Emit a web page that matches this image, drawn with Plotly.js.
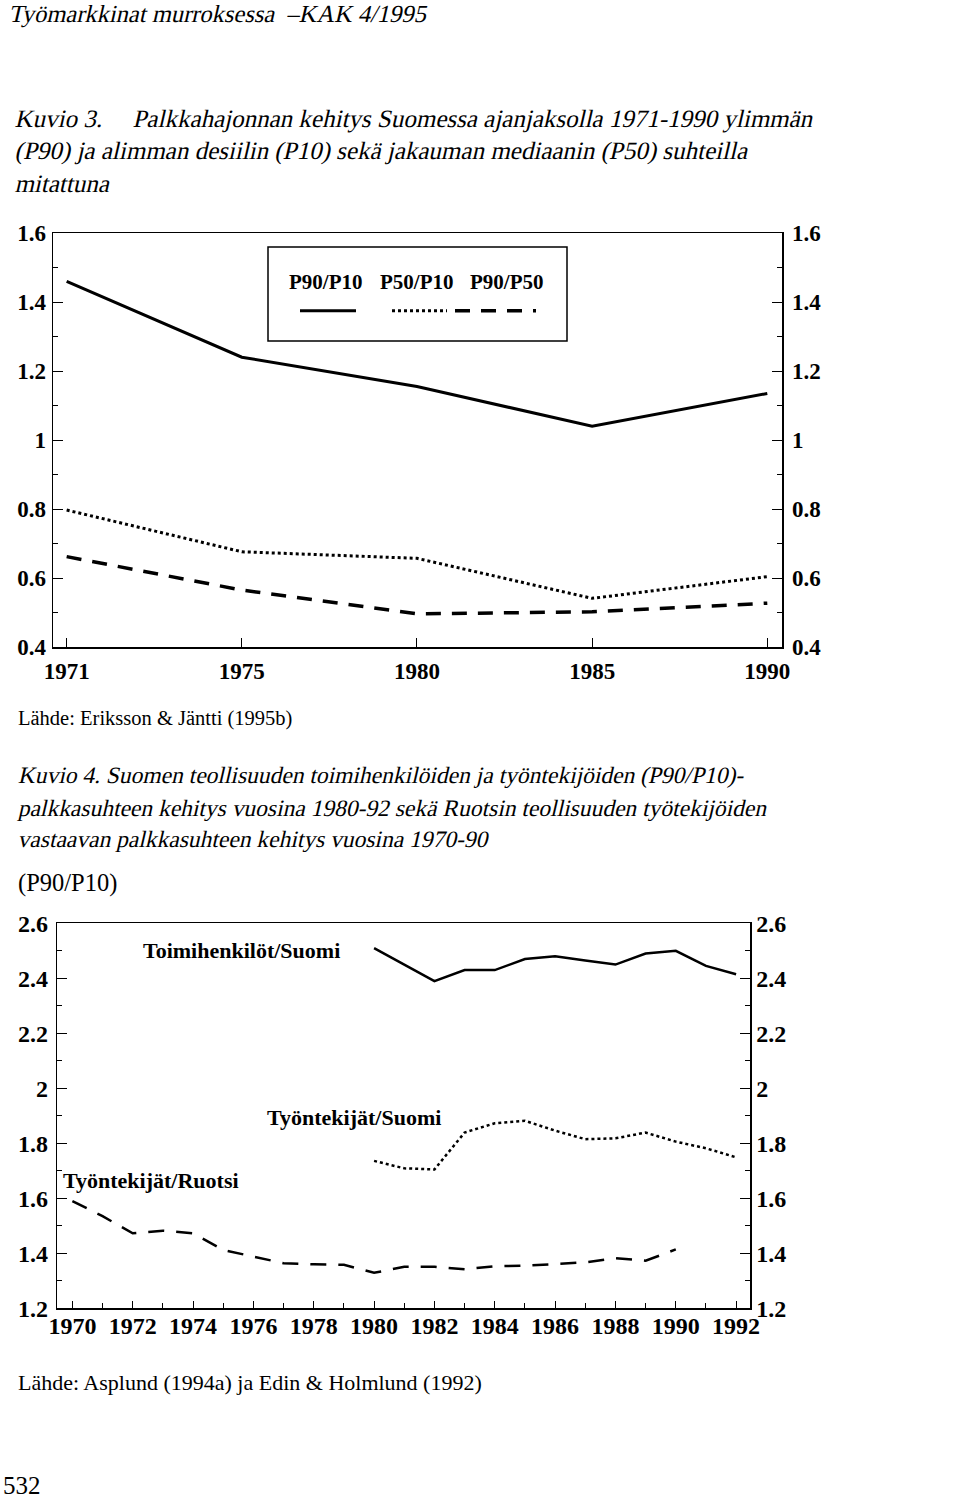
<!DOCTYPE html>
<html>
<head>
<meta charset="utf-8">
<script src="https://cdn.plot.ly/plotly-3.0.1.min.js"></script>
<style>
  html, body { margin: 0; padding: 0; background: #fff; }
  #chart { width: 960px; height: 1499px; }
</style>
</head>
<body>
<div id="chart"></div>
<script>
// ---------- Data: Kuvio 3 ----------
const years1 = ['1971', '1975', '1980', '1985', '1990'];
const p90p10 = [1.46, 1.24, 1.155, 1.04, 1.135];
const p50p10 = [0.797, 0.676, 0.657, 0.541, 0.604];
const p90p50 = [0.662, 0.565, 0.496, 0.502, 0.527];

// ---------- Data: Kuvio 4 ----------
const yearsSuomi = [1980, 1981, 1982, 1983, 1984, 1985, 1986, 1987, 1988, 1989, 1990, 1991, 1992];
const toimihenkilotSuomi = [2.51, 2.45, 2.39, 2.43, 2.43, 2.47, 2.48, 2.465, 2.45, 2.49, 2.50, 2.445, 2.415];
const tyontekijatSuomi = [1.736, 1.709, 1.705, 1.839, 1.873, 1.882, 1.846, 1.815, 1.818, 1.839, 1.806, 1.782, 1.749];
const yearsRuotsi = [1970, 1971, 1972, 1973, 1974, 1975, 1976, 1977, 1978, 1979, 1980,
                     1981, 1982, 1983, 1984, 1985, 1986, 1987, 1988, 1989, 1990];
const tyontekijatRuotsi = [1.59, 1.535, 1.473, 1.482, 1.473, 1.412, 1.388, 1.364, 1.36, 1.358, 1.329,
                           1.351, 1.351, 1.342, 1.353, 1.355, 1.361, 1.367, 1.382, 1.373, 1.414];

// ---------- Layout helpers (page pixels -> paper) ----------
const W = 960, H = 1499;
const px = v => v / W;
const py = v => 1 - v / H;

const SERIF = 'Liberation Serif';
const tick1Font = { family: SERIF, size: 23, color: '#000', weight: 'bold' };
const tick2Font = { family: SERIF, size: 24, color: '#000', weight: 'bold' };

const baseAxis = {
  showgrid: false, zeroline: false, showline: true,
  linecolor: '#000', linewidth: 1.5,
  ticks: 'inside', tickcolor: '#000', tickwidth: 1,
  fixedrange: true
};

const traces = [
  { x: years1, y: p90p10, xaxis: 'x', yaxis: 'y2', mode: 'lines', name: 'P90/P10',
    line: { color: '#000', width: 3 }, hoverinfo: 'skip' },
  { x: years1, y: p50p10, xaxis: 'x', yaxis: 'y', mode: 'lines', name: 'P50/P10',
    line: { color: '#000', width: 3, dash: '3px,3px' }, hoverinfo: 'skip' },
  { x: years1, y: p90p50, xaxis: 'x', yaxis: 'y', mode: 'lines', name: 'P90/P50',
    line: { color: '#000', width: 3.5, dash: '15px,11px' }, hoverinfo: 'skip' },

  { x: yearsSuomi, y: toimihenkilotSuomi, xaxis: 'x3', yaxis: 'y4', mode: 'lines', name: 'Toimihenkilöt/Suomi',
    line: { color: '#000', width: 2.5 }, hoverinfo: 'skip' },
  { x: yearsSuomi, y: tyontekijatSuomi, xaxis: 'x3', yaxis: 'y3', mode: 'lines', name: 'Työntekijät/Suomi',
    line: { color: '#000', width: 2.5, dash: '3px,3px' }, hoverinfo: 'skip' },
  { x: yearsRuotsi, y: tyontekijatRuotsi, xaxis: 'x3', yaxis: 'y3', mode: 'lines', name: 'Työntekijät/Ruotsi',
    line: { color: '#000', width: 2.5, dash: '16px,12px' }, hoverinfo: 'skip' }
];

const annotations = [];
const italicIdx = new Set();
function ann(text, x, y, font, extra, italic) {
  if (italic) italicIdx.add(annotations.length);
  annotations.push(Object.assign({
    text: text, xref: 'paper', yref: 'paper', x: px(x), y: py(y),
    xanchor: 'left', yanchor: 'middle', showarrow: false, font: font
  }, extra || {}));
}
const reg = s => ({ family: SERIF, size: s, color: '#000' });
const bold = s => ({ family: SERIF, size: s, color: '#000', weight: 'bold' });

// captions (serif, slanted after render since no serif italic face is installed)
ann('Työmarkkinat murroksessa\u00a0\u00a0–KAK 4/1995', 7, 14, reg(24.5), null, true);
ann('Kuvio 3.', 13, 119, reg(25), null, true);
ann('Palkkahajonnan kehitys Suomessa ajanjaksolla 1971-1990 ylimmän', 131, 119, reg(25), null, true);
ann('(P90) ja alimman desiilin (P10) sekä jakauman mediaanin (P50) suhteilla', 13, 151, reg(25), null, true);
ann('mitattuna', 13, 183, reg(25), null, true);

ann('P90/P10', 325.5, 282, bold(21), { xanchor: 'center' });
ann('P50/P10', 416.5, 282, bold(21), { xanchor: 'center' });
ann('P90/P50', 506.5, 282, bold(21), { xanchor: 'center' });

ann('Lähde: Eriksson &amp; Jäntti (1995b)', 16, 718, reg(20.5));
ann('Kuvio 4. Suomen teollisuuden toimihenkilöiden ja työntekijöiden (P90/P10)-', 16, 775, reg(23.5), null, true);
ann('palkkasuhteen kehitys vuosina 1980-92 sekä Ruotsin teollisuuden työtekijöiden', 16, 808, reg(23.5), null, true);
ann('vastaavan palkkasuhteen kehitys vuosina 1970-90', 16, 839, reg(23.5), null, true);
ann('(P90/P10)', 16, 883, reg(24.5));

ann('Toimihenkilöt/Suomi', 141, 950, bold(22));
ann('Työntekijät/Suomi', 265, 1117, bold(22));
ann('Työntekijät/Ruotsi', 61, 1180, bold(22));

ann('Lähde: Asplund (1994a) ja Edin &amp; Holmlund (1992)', 16, 1382, reg(22));
ann('532', 1, 1485, reg(25));

const shapes = [
  { type: 'rect', xref: 'paper', yref: 'paper', x0: px(268), x1: px(567), y0: py(247), y1: py(341),
    line: { color: '#000', width: 1.5 } },
  { type: 'line', xref: 'paper', yref: 'paper', x0: px(300), x1: px(356), y0: py(310.7), y1: py(310.7),
    line: { color: '#000', width: 3 } },
  { type: 'line', xref: 'paper', yref: 'paper', x0: px(392), x1: px(447), y0: py(310.7), y1: py(310.7),
    line: { color: '#000', width: 3, dash: '3px,3px' } },
  { type: 'line', xref: 'paper', yref: 'paper', x0: px(455), x1: px(536), y0: py(310.7), y1: py(310.7),
    line: { color: '#000', width: 3.5, dash: '15px,11px' } }
];

const layout = {
  width: W, height: H,
  margin: { l: 0, r: 0, t: 0, b: 0 },
  paper_bgcolor: '#fff', plot_bgcolor: '#fff',
  showlegend: false,
  annotations: annotations,
  shapes: shapes,

  xaxis: Object.assign({}, baseAxis, {
    type: 'category', domain: [px(53), px(782)], anchor: 'y',
    range: [-0.078, 4.084], mirror: true, ticklen: 9,
    tickfont: tick1Font, ticklabelstandoff: 3
  }),
  yaxis: Object.assign({}, baseAxis, {
    domain: [py(647), py(233)], anchor: 'x', range: [0.4, 1.6],
    tick0: 0.4, dtick: 0.2, ticklen: 10, tickfont: tick1Font,
    minor: { dtick: 0.1, ticks: 'inside', ticklen: 5, tickcolor: '#000', showgrid: false },
    ticklabelstandoff: 1
  }),
  yaxis2: Object.assign({}, baseAxis, {
    overlaying: 'y', side: 'right', anchor: 'x', range: [0.4, 1.6],
    tick0: 0.4, dtick: 0.2, ticklen: 10, tickfont: tick1Font,
    minor: { dtick: 0.1, ticks: 'inside', ticklen: 5, tickcolor: '#000', showgrid: false },
    ticklabelstandoff: 4
  }),

  xaxis3: Object.assign({}, baseAxis, {
    domain: [px(57.3), px(750)], anchor: 'y3', range: [1969.5, 1992.46],
    tick0: 1970, dtick: 2, mirror: true, ticklen: 7, tickfont: tick2Font,
    minor: { dtick: 1, ticks: 'inside', ticklen: 5, tickcolor: '#000', showgrid: false },
    ticklabelstandoff: -5
  }),
  yaxis3: Object.assign({}, baseAxis, {
    domain: [py(1308.3), py(923.3)], anchor: 'x3', range: [1.2, 2.6],
    tick0: 1.2, dtick: 0.2, ticklen: 10, tickfont: tick2Font,
    minor: { dtick: 0.1, ticks: 'inside', ticklen: 5, tickcolor: '#000', showgrid: false },
    ticklabelstandoff: 3
  }),
  yaxis4: Object.assign({}, baseAxis, {
    overlaying: 'y3', side: 'right', anchor: 'x3', range: [1.2, 2.6],
    tick0: 1.2, dtick: 0.2, ticklen: 10, tickfont: tick2Font,
    minor: { dtick: 0.1, ticks: 'inside', ticklen: 5, tickcolor: '#000', showgrid: false },
    ticklabelstandoff: 0
  })
};

Plotly.newPlot('chart', traces, layout, { staticPlot: true, displayModeBar: false }).then(gd => {
  gd.querySelectorAll('g.annotation').forEach(g => {
    const idx = +g.getAttribute('data-index');
    if (!italicIdx.has(idx)) return;
    const t = g.querySelector('text.annotation-text');
    if (!t) return;
    const bb = t.getBBox();
    const cy = bb.y + bb.height * 0.72;
    t.setAttribute('transform', 'translate(0,' + cy + ') skewX(-13) translate(0,' + (-cy) + ')');
  });
});
</script>
</body>
</html>
